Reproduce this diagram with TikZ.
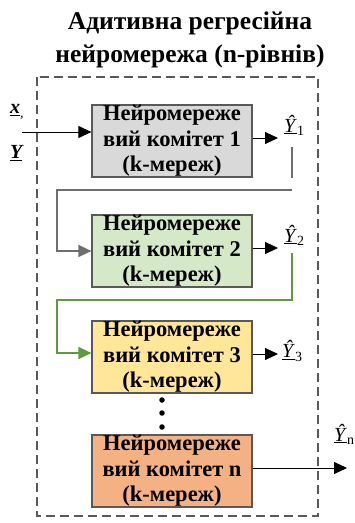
\documentclass[tikz,border=0pt]{standalone}
\usepackage{fontspec}
\setmainfont{Liberation Serif}
\usetikzlibrary{arrows.meta}
\definecolor{boxline}{HTML}{595959}
\definecolor{fillA}{HTML}{D9D9D9}
\definecolor{fillB}{HTML}{D5E8C8}
\definecolor{fillC}{HTML}{FFE699}
\definecolor{fillD}{HTML}{F4B183}
\definecolor{linkgray}{HTML}{6E6E6E}
\definecolor{linkgreen}{HTML}{5E9A3E}
\begin{document}
\begin{tikzpicture}[x=1pt,y=-1pt,
  box/.style={draw=boxline, line width=1.2pt, minimum width=160pt, minimum height=72pt,
    inner sep=0pt, align=center, font=\fontsize{22.5}{25.5}\selectfont\bfseries},
  lbl/.style={inner sep=0pt, font=\fontsize{20}{20}\selectfont},
  arr/.style={line width=1pt, -{Triangle[length=13pt,width=12pt]}},
  link/.style={line width=1.4pt},
  dotc/.style={circle, fill=black, inner sep=0pt, minimum size=5.5pt}]
\useasboundingbox (0,0) rectangle (355,523);
\fill[white] (0,0) rectangle (355,523);
\node[align=center, inner sep=0pt, font=\fontsize{25.5}{33}\selectfont\bfseries] (title) at (190,40)
  {Адитивна регресійна\\нейромережа (n-рівнів)};
\draw[boxline, line width=1.3pt, dash pattern=on 9pt off 5pt] (37,77) rectangle (318,516);
\node[box, fill=fillA] (b1) at (172,141) {Нейромереже\\вий комітет 1\\(k-мереж)};
\node[box, fill=fillB] (b2) at (172,251) {Нейромереже\\вий комітет 2\\(k-мереж)};
\node[box, fill=fillC] (b3) at (172,357) {Нейромереже\\вий комітет 3\\(k-мереж)};
\node[box, fill=fillD] (b4) at (172,471) {Нейромереже\\вий комітет n\\(k-мереж)};
% inputs
\node[lbl, anchor=west] (xin) at (10,112) {\textbf{\textit{\underline{x}}}\textsubscript{\textit{,}}};
\node[lbl, anchor=west] (yin) at (10,153) {\textbf{\textit{\underline{Y}}}};
\coordinate (in) at (22,132);
\draw[arr] (in) -- (in -| b1.west);
% outputs
\coordinate (o1) at (278,138);
\coordinate (o2) at (278,248);
\coordinate (o3) at (278,354);
\coordinate (o4) at (347,468);
\draw[arr] (o1 -| b1.east) -- (o1);
\draw[arr] (o2 -| b2.east) -- (o2);
\draw[arr] (o3 -| b3.east) -- (o3);
\draw[arr] (o4 -| b4.east) -- (o4);
\node[lbl, anchor=west] (y1) at (284,125) {\underline{\textit{Ŷ}}\textsubscript{1}};
\node[lbl, anchor=west] (y2) at (284,235) {\underline{\textit{Ŷ}}\textsubscript{2}};
\node[lbl, anchor=west] (y3) at (282,351) {\underline{\textit{Ŷ}}\textsubscript{3}};
\node[lbl, anchor=west] (yn) at (334,434) {\underline{\textit{Ŷ}}\textsubscript{n}};
% links
\coordinate (c1a) at (292,178);
\coordinate (c1b) at (292,190);
\coordinate (c1c) at (57,190);
\draw[linkgray, link] (292,147) -- (c1a);
\draw[linkgray, link, -{Triangle[length=13pt,width=12pt]}] (c1b) -- (c1c) |- (b2.west);
\coordinate (c2a) at (292,253);
\coordinate (c2b) at (292,300);
\coordinate (c2c) at (57,300);
\draw[linkgreen, link, -{Triangle[length=13pt,width=12pt]}] (c2a) -- (c2b) -- (c2c) |- ([yshift=4pt]b3.west);
% dots
\node[dotc] (d1) at (162,400) {};
\node[dotc] (d2) at (162,413) {};
\node[dotc] (d3) at (162,427) {};
\end{tikzpicture}
\end{document}
